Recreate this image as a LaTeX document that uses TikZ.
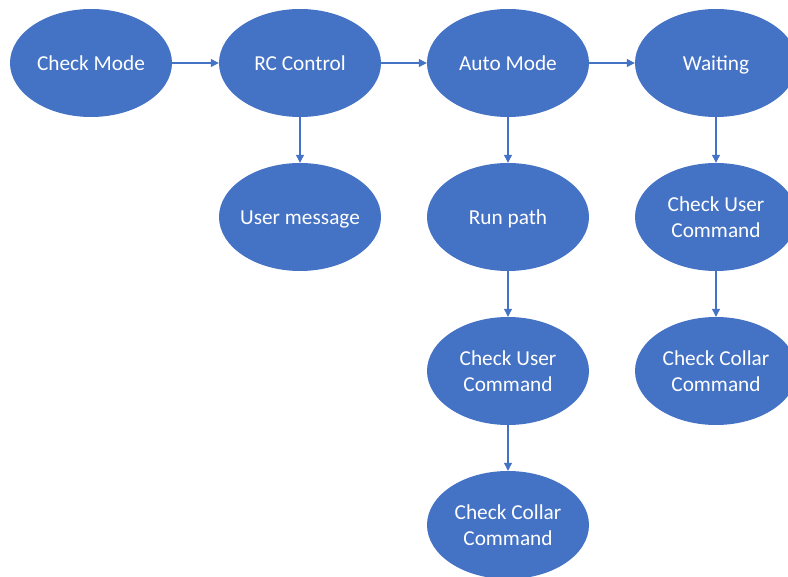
\documentclass[tikz,border=0pt]{standalone}
\usepackage{fontspec}
\setmainfont{Carlito}
\usetikzlibrary{shapes.geometric,arrows.meta}
\definecolor{stateblue}{HTML}{4472C4}
\tikzset{
  state/.style={ellipse, fill=stateblue, draw=none, minimum width=162pt, minimum height=108pt,
    inner xsep=-12pt, inner ysep=0pt, text=white, font=\fontsize{21.3}{26}\selectfont, align=center},
  % single-line labels get a fixed height and depth so that descenders do not shift them
  oneline/.style={execute at begin node={\rule[-4pt]{0pt}{23.7pt}}},
  flow/.style={draw=stateblue, line width=1.1pt, -{Triangle[length=8pt,width=8pt]}}
}
\begin{document}
\begin{tikzpicture}[x=1pt,y=-1pt]
  \useasboundingbox (0,0) rectangle (788,577);
  \clip (0,0) rectangle (788,577);
  % top row
  \node[state,oneline] (mode)  at (91,63)  {Check Mode};
  \node[state,oneline] (rc)    at (300,63) {RC Control};
  \node[state,oneline] (auto)  at (508,63) {Auto Mode};
  \node[state,oneline] (wait)  at (716,63) {Waiting};
  % branches
  \node[state,oneline] (msg)   at (300,217) {User message};
  \node[state,oneline] (run)   at (508,217) {Run path};
  \node[state] (user1) at (508,371) {Check User\\Command};
  \node[state] (coll1) at (508,525) {Check Collar\\Command};
  \node[state] (user2) at (716,217) {Check User\\Command};
  \node[state] (coll2) at (716,371) {Check Collar\\Command};
  % connectors
  \draw[flow] (mode) -- (rc);
  \draw[flow] (rc) -- (auto);
  \draw[flow] (auto) -- (wait);
  \draw[flow] (rc) -- (msg);
  \draw[flow] (auto) -- (run);
  \draw[flow] (run) -- (user1);
  \draw[flow] (user1) -- (coll1);
  \draw[flow] (wait) -- (user2);
  \draw[flow] (user2) -- (coll2);
\end{tikzpicture}
\end{document}
